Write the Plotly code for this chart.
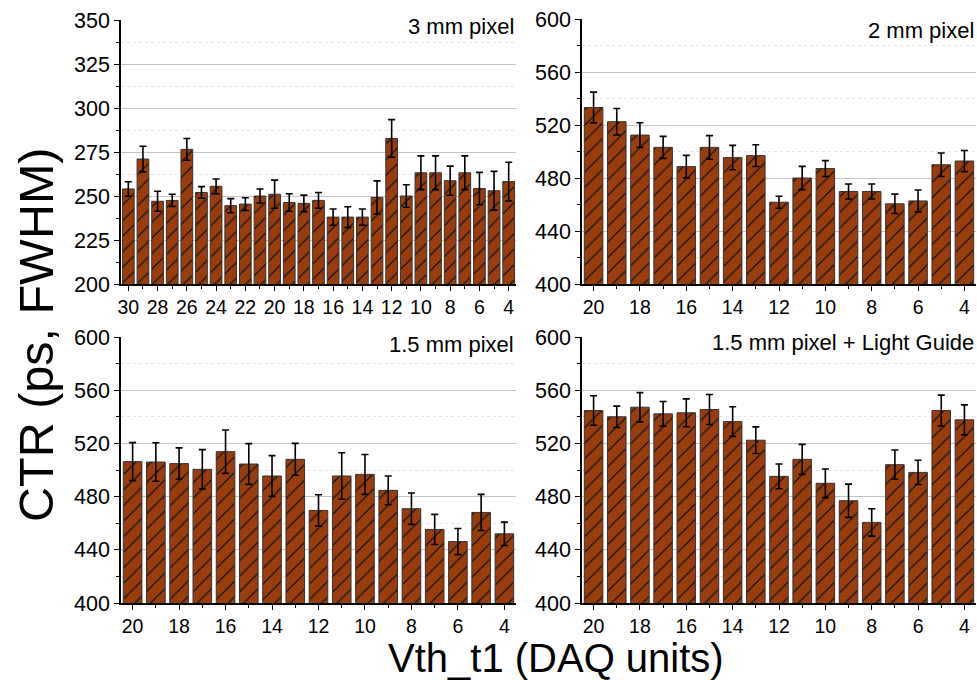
import plotly.graph_objects as go

# ---------------- data ----------------
x_3mm = list(range(30, 3, -1))
ctr_3mm = [254, 271, 247, 247.5, 276.5, 252, 255.5, 244.5, 245.4, 250, 251, 246.3, 245.8, 247.5,
           238, 238, 238, 249.2, 282.7, 250, 263.2, 263.2, 258.7, 263.2, 254.2, 253, 258.2]
err_3mm = [4.1, 7.3, 5.7, 3.5, 6.2, 3.3, 4.2, 4, 3.6, 4, 8, 5, 4.7, 4.5,
           4.6, 5.9, 4.6, 9.4, 10.7, 6.4, 9.6, 9.6, 8.3, 9.6, 9.2, 11, 11]

x_2mm = list(range(20, 3, -1))
ctr_2mm = [533.2, 522.5, 512.4, 503.1, 488.6, 503.1, 495.4, 496.9, 461.7, 480, 487.1,
           469.8, 469.8, 460.5, 462.7, 490, 492.8]
err_2mm = [11.6, 10, 9.3, 8.3, 8.5, 8.9, 9.2, 8.2, 4.5, 8.8, 6, 5.7, 5.7, 7.3, 8.3, 8.9, 8]

x_15mm = list(range(20, 3, -1))
ctr_15mm = [506.3, 506, 504.8, 500.5, 513.8, 504.5, 495.5, 508, 469.6, 495.5, 496.7,
            484.7, 470.9, 455.3, 446.2, 468.1, 452]
err_15mm = [14.3, 14.5, 11.8, 14.8, 16.3, 15.3, 15.3, 12, 11.8, 17.5, 15, 10.8, 11.8, 11.3,
            9.8, 13.6, 8.8]

x_lg = list(range(20, 3, -1))
ctr_lg = [544.7, 540, 547.2, 542.2, 543, 545.5, 536.4, 522.4, 495.2, 508, 490, 476.9,
          460.6, 504, 498.2, 544.7, 537.7]
err_lg = [11.1, 8, 11, 9.3, 10.5, 11.3, 11.1, 10, 9.3, 11.3, 10.8, 12.5, 10.3, 11, 9.1,
          11.6, 11.3]

panel_labels = ["3 mm pixel", "2 mm pixel", "1.5 mm pixel", "1.5 mm pixel + Light Guide"]
y_title = "CTR (ps, FWHM)"
x_title = "Vth_t1 (DAQ units)"

# ---------------- style ----------------
W, H = 977, 680
BAR_COLOR = "#9A3D0C"
FONT = "Liberation Sans, Arial, sans-serif"

def px_x(a, b):
    return [a / W, b / W]

def px_y(top, bottom):
    return [1 - bottom / H, 1 - top / H]

panels = [
    dict(x=x_3mm, y=ctr_3mm, e=err_3mm, xd=px_x(121, 516), yd=px_y(20, 284),
         xr=[30.5, 3.5], yr=[200, 350], ydt=25, label=panel_labels[0], ly=27),
    dict(x=x_2mm, y=ctr_2mm, e=err_2mm, xd=px_x(582, 976), yd=px_y(19, 284),
         xr=[20.5, 3.5], yr=[400, 600], ydt=40, label=panel_labels[1], ly=31),
    dict(x=x_15mm, y=ctr_15mm, e=err_15mm, xd=px_x(121, 516), yd=px_y(337, 603),
         xr=[20.5, 3.5], yr=[400, 600], ydt=40, label=panel_labels[2], ly=344),
    dict(x=x_lg, y=ctr_lg, e=err_lg, xd=px_x(582, 976), yd=px_y(337, 603),
         xr=[20.5, 3.5], yr=[400, 600], ydt=40, label=panel_labels[3], ly=342),
]

fig = go.Figure()
layout = dict(
    template="none",
    width=W, height=H, margin=dict(l=0, r=0, t=0, b=0, pad=0, autoexpand=False),
    paper_bgcolor="white", plot_bgcolor="white", showlegend=False,
    bargap=0.2, font=dict(family=FONT, color="black"),
    annotations=[],
)

for i, p in enumerate(panels, start=1):
    xa = "x" if i == 1 else f"x{i}"
    ya = "y" if i == 1 else f"y{i}"
    fig.add_trace(go.Bar(
        x=p["x"], y=p["y"], xaxis=xa, yaxis=ya,
        marker=dict(color=BAR_COLOR, line=dict(color="#333333", width=1),
                    pattern=dict(shape="/", fgcolor="#111111", bgcolor=BAR_COLOR,
                                 size=11, solidity=0.11)),
        error_y=dict(type="data", array=p["e"], visible=True, color="black",
                     thickness=1.6, width=3.5),
    ))
    xkey = "xaxis" if i == 1 else f"xaxis{i}"
    ykey = "yaxis" if i == 1 else f"yaxis{i}"
    layout[xkey] = dict(
        domain=p["xd"], anchor=ya, range=p["xr"], tick0=4, dtick=2, automargin=False,
        showline=True, linecolor="black", linewidth=1.5, ticks="outside",
        ticklen=5, tickwidth=1.2, tickcolor="black", showgrid=False, zeroline=False,
        tickfont=dict(size=19.5, family=FONT, color="black"),
        minor=dict(dtick=1, ticks="outside", ticklen=3, tickcolor="black", showgrid=False),
    )
    layout[ykey] = dict(
        domain=p["yd"], anchor=xa, range=p["yr"], dtick=p["ydt"], automargin=False,
        showline=True, linecolor="black", linewidth=1.5, ticks="outside",
        ticklen=5, tickwidth=1.2, tickcolor="black", zeroline=False,
        showgrid=True, gridcolor="#c4c4c4", gridwidth=1,
        tickfont=dict(size=21.5, family=FONT, color="black"),
        minor=dict(dtick=p["ydt"] / 2, ticks="outside", ticklen=3, tickcolor="black",
                   showgrid=True, gridcolor="#e4e4e4", griddash="dot", gridwidth=1),
    )
    layout["annotations"].append(dict(
        text=p["label"], xref=f"{xa} domain", yref="paper",
        x=1.0, y=1 - p["ly"] / H, xanchor="right", yanchor="middle", showarrow=False,
        font=dict(size=22, family=FONT, color="black"),
    ))

layout["annotations"].append(dict(
    text=y_title, xref="paper", yref="paper", x=36 / W, y=1 - 335 / H,
    textangle=-90, showarrow=False, xanchor="center", yanchor="middle",
    font=dict(size=48.5, family=FONT, color="black"),
))
layout["annotations"].append(dict(
    text=x_title, xref="paper", yref="paper", x=556 / W, y=1 - 658 / H,
    showarrow=False, xanchor="center", yanchor="middle",
    font=dict(size=40, family=FONT, color="black"),
))

fig.update_layout(**layout)
fig.write_html("out.html")
